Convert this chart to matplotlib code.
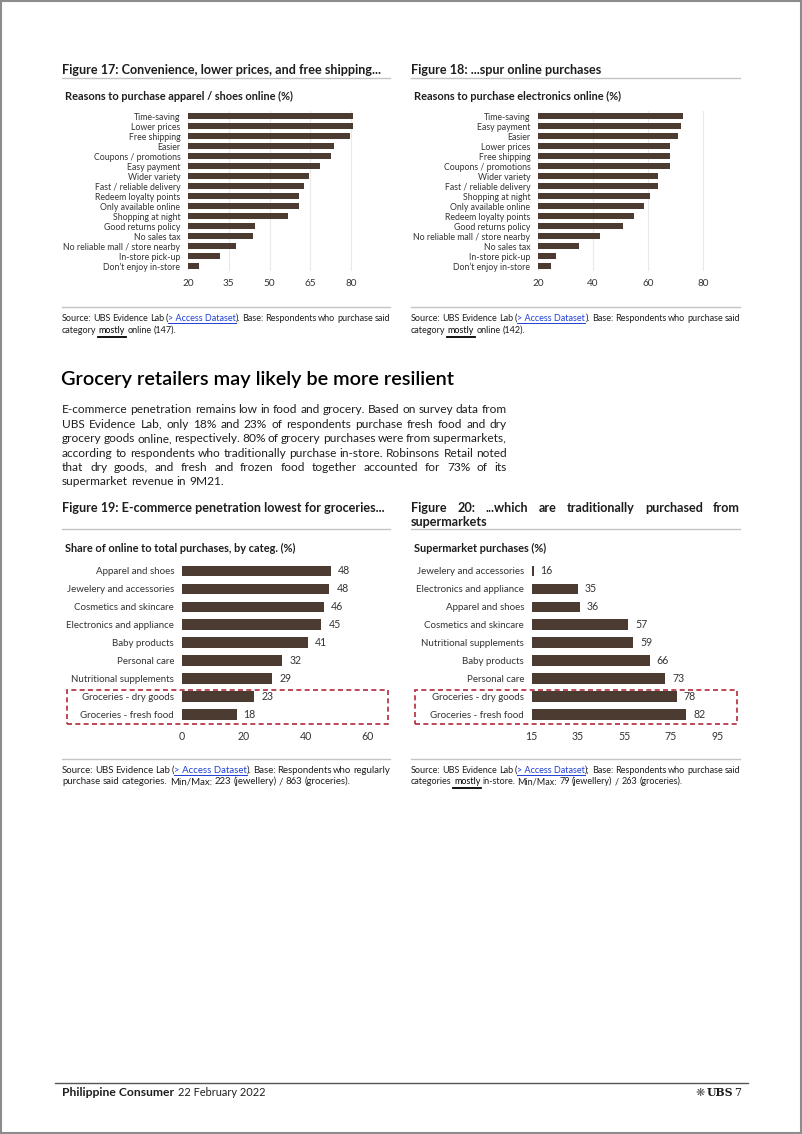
import re
import matplotlib
matplotlib.use('Agg')
import matplotlib.pyplot as plt
from matplotlib.lines import Line2D
from matplotlib.patches import Rectangle

# ---- chart data ----
apparel_reasons = ['Time-saving', 'Lower prices', 'Free shipping', 'Easier', 'Coupons / promotions',
                   'Easy payment', 'Wider variety', 'Fast / reliable delivery', 'Redeem loyalty points',
                   'Only available online', 'Shopping at night', 'Good returns policy', 'No sales tax',
                   'No reliable mall / store nearby', 'In-store pick-up', 'Don\u2019t enjoy in-store']
apparel_pct = [80.7, 80.7, 79.6, 73.6, 72.8, 68.7, 64.7, 62.8, 60.8, 60.8, 56.8, 44.7, 43.9, 37.7, 31.8, 23.9]
apparel_ticks = [20, 35, 50, 65, 80]

electronics_reasons = ['Time-saving', 'Easy payment', 'Easier', 'Lower prices', 'Free shipping',
                       'Coupons / promotions', 'Wider variety', 'Fast / reliable delivery', 'Shopping at night',
                       'Only available online', 'Redeem loyalty points', 'Good returns policy',
                       'No reliable mall / store nearby', 'No sales tax', 'In-store pick-up',
                       'Don\u2019t enjoy in-store']
electronics_pct = [72.7, 71.9, 70.8, 67.9, 67.9, 67.9, 63.8, 63.8, 60.8, 58.7, 54.9, 50.8, 42.7, 34.8, 26.7, 24.7]
electronics_ticks = [20, 40, 60, 80]

online_cats = ['Apparel and shoes', 'Jewelery and accessories', 'Cosmetics and skincare',
               'Electronics and appliance', 'Baby products', 'Personal care', 'Nutritional supplements',
               'Groceries - dry goods', 'Groceries - fresh food']
online_share = [48.1, 47.6, 45.9, 45.0, 40.6, 32.4, 29.2, 23.4, 17.7]
online_ticks = [0, 20, 40, 60]

market_cats = ['Jewelery and accessories', 'Electronics and appliance', 'Apparel and shoes',
               'Cosmetics and skincare', 'Nutritional supplements', 'Baby products', 'Personal care',
               'Groceries - dry goods', 'Groceries - fresh food']
market_share = [15.8, 34.8, 35.8, 56.6, 58.8, 65.8, 72.6, 77.6, 81.6]
market_ticks = [15, 35, 55, 75, 95]

BAR = '#4b3b31'
TEXT = '#1e1e1e'
LABEL = '#333333'
LINK = '#1f3fd6'
RULE = '#c4c4c4'
RED = '#b22a3c'

W, H = 802, 1134
plt.rcParams['font.family'] = ['Lato', 'DejaVu Sans']
fig = plt.figure(figsize=(W / 100, H / 100), dpi=100)
R = fig.canvas.get_renderer()


def fx(x):
    return x / W


def fy(y):
    return 1 - y / H


def hline(x0, x1, y, color=RULE, lw=1.0):
    fig.add_artist(Line2D([fx(x0), fx(x1)], [fy(y), fy(y)], color=color, lw=lw))


def text_w(s, size, weight='normal'):
    t = fig.text(0, 0, s, fontsize=size, weight=weight)
    w = t.get_window_extent(renderer=R).width
    t.remove()
    return w


def parse(line):
    # [[..]] = blue underlined link, __..__ = underlined word
    words = []
    for tok in re.findall(r'(?:\[\[.*?\]\]|\S)+', line):
        runs = []
        for part in re.split(r'(\[\[.*?\]\]|__.+?__)', tok):
            if not part:
                continue
            if part.startswith('[['):
                runs.append((part[2:-2], LINK, 'link'))
            elif part.startswith('__'):
                runs.append((part[2:-2], 'black', 'bar'))
            else:
                runs.append((part, None, None))
        words.append(runs)
    return words


def fit_size(lines, width, size, weight, squeeze=0.6):
    # biggest size where every line fits with spaces squeezed to `squeeze` of normal
    while size > 4:
        sp = text_w('a a', size, weight) - text_w('aa', size, weight)
        worst = 0
        for ln in lines:
            words = parse(ln)
            tot = sum(text_w(r[0], size, weight) for w in words for r in w) + squeeze * sp * (len(words) - 1)
            worst = max(worst, tot)
        if worst <= width:
            return size
        size -= 0.1
    return size


def block(lines, x0, x1, y0, lead, size, weight='normal', color=TEXT):
    # justified block, last line left aligned; y values are baselines in px
    size = fit_size(lines, x1 - x0, size, weight)
    sp = text_w('a a', size, weight) - text_w('aa', size, weight)
    for i, ln in enumerate(lines):
        words = parse(ln)
        widths = [[text_w(r[0], size, weight) for r in w] for w in words]
        total = sum(sum(ws) for ws in widths)
        last = i == len(lines) - 1
        gap = sp if (last or len(words) < 2) else (x1 - x0 - total) / (len(words) - 1)
        y = y0 + i * lead
        x = x0
        for w, ws in zip(words, widths):
            for (s, c, ul), wd in zip(w, ws):
                fig.text(fx(x), fy(y), s, fontsize=size, weight=weight, color=c or color, va='baseline')
                if ul == 'link':
                    hline(x, x + wd, y + 1.8, color=LINK, lw=0.7)
                elif ul == 'bar':
                    hline(x - 1, x + wd + 1, y + 3.5, color='black', lw=1.3)
                x += wd
            x += gap


def bar_panel(rect, cats, vals, xlim, ticks, cat_size, tick_size, grid, labels):
    left, right, top, bottom = rect
    ax = fig.add_axes([fx(left), fy(bottom), (right - left) / W, (bottom - top) / H])
    pos = list(range(len(cats)))
    bars = ax.barh(pos, vals, height=0.6, color=BAR, zorder=2)
    ax.set_xlim(*xlim)
    ax.set_ylim(len(cats) - 0.5, -0.5)
    ax.set_xticks(ticks)
    ax.set_yticks(pos)
    ax.set_yticklabels(cats)
    ax.tick_params(axis='y', length=0, pad=5.5, labelsize=cat_size, labelcolor=LABEL)
    ax.tick_params(axis='x', length=0, pad=5.5, labelsize=tick_size, labelcolor=LABEL)
    for s in ax.spines.values():
        s.set_visible(False)
    ax.patch.set_visible(False)
    if grid:
        ax.xaxis.grid(True, color='#e9e9e9', lw=0.8, zorder=0)
    if labels:
        ax.bar_label(bars, fmt='%.0f', padding=5, fontsize=tick_size, color=LABEL)
    return ax


# page border
fig.add_artist(Rectangle((fx(1), fy(1133)), 800 / W, 1132 / H, fill=False, ec='#8c8c8c', lw=1.5))

# ---- Figures 17 / 18 ----
fig.text(fx(62), fy(70), 'Figure 17: Convenience, lower prices, and free shipping...', fontsize=9.1,
         weight='bold', color=TEXT, va='center')
fig.text(fx(411), fy(70), 'Figure 18: ...spur online purchases', fontsize=9.1,
         weight='bold', color=TEXT, va='center')
hline(62, 390, 77.5)
hline(411, 740, 77.5)
fig.text(fx(65), fy(96), 'Reasons to purchase apparel / shoes online (%)', fontsize=7.9,
         weight='bold', color=TEXT, va='center')
fig.text(fx(414), fy(96), 'Reasons to purchase electronics online (%)', fontsize=7.9,
         weight='bold', color=TEXT, va='center')

bar_panel((188, 367.3, 111, 271.3), apparel_reasons, apparel_pct, (20, 86), apparel_ticks,
          6.3, 7.2, True, False)
bar_panel((538, 719.5, 111, 271.3), electronics_reasons, electronics_pct, (20, 86), electronics_ticks,
          6.3, 7.2, True, False)

hline(62, 390, 307)
hline(411, 740, 307)
block(['Source: UBS Evidence Lab ([[> Access Dataset]]). Base: Respondents who purchase said',
       'category __mostly__ online (147).'], 62, 390, 321, 12, 7.3, color=TEXT)
block(['Source: UBS Evidence Lab ([[> Access Dataset]]). Base: Respondents who purchase said',
       'category __mostly__ online (142).'], 411, 740, 321, 12, 7.3, color=TEXT)

# ---- section header and body ----
fig.text(fx(61), fy(380), 'Grocery retailers may likely be more resilient', fontsize=14.3,
         weight='semibold', color='black', va='center')
block(['E-commerce penetration remains low in food and grocery. Based on survey data from',
       'UBS Evidence Lab, only 18% and 23% of respondents purchase fresh food and dry',
       'grocery goods online, respectively. 80% of grocery purchases were from supermarkets,',
       'according to respondents who traditionally purchase in-store. Robinsons Retail noted',
       'that dry goods, and fresh and frozen food together accounted for 73% of its',
       'supermarket revenue in 9M21.'], 62, 507, 413, 14.5, 8.9, color=TEXT)

# ---- Figures 19 / 20 ----
fig.text(fx(62), fy(508), 'Figure 19: E-commerce penetration lowest for groceries...', fontsize=9.1,
         weight='bold', color=TEXT, va='center')
block(['Figure 20: ...which are traditionally purchased from', 'supermarkets'],
      411, 740, 511.5, 14.8, 9.1, weight='bold', color=TEXT)
hline(62, 390, 529)
hline(411, 740, 529)
fig.text(fx(65), fy(548), 'Share of online to total purchases, by categ. (%)', fontsize=7.9,
         weight='bold', color=TEXT, va='center')
fig.text(fx(414), fy(548), 'Supermarket purchases (%)', fontsize=7.9,
         weight='bold', color=TEXT, va='center')

bar_panel((181.7, 374.2, 562, 723.7), online_cats, online_share, (0, 62), online_ticks,
          7.0, 7.6, False, True)
bar_panel((531.7, 728.9, 562, 723.7), market_cats, market_share, (15, 100), market_ticks,
          7.0, 7.6, False, True)

for x0, x1 in [(67, 388), (415, 736.5)]:
    fig.add_artist(Rectangle((fx(x0), fy(723.5)), (x1 - x0) / W, 33.5 / H, fill=False,
                             ec=RED, lw=1.2, ls=(0, (3, 2))))

hline(62, 390, 759)
hline(411, 740, 759)
block(['Source: UBS Evidence Lab ([[> Access Dataset]]). Base: Respondents who regularly',
       'purchase said categories. Min/Max: 223 (jewellery) / 863 (groceries).'],
      62, 390, 773, 11.5, 7.3, color=TEXT)
block(['Source: UBS Evidence Lab ([[> Access Dataset]]); Base: Respondents who purchase said',
       'categories __mostly__ in-store. Min/Max: 79 (jewellery) / 263 (groceries).'],
      411, 740, 773, 11.5, 7.3, color=TEXT)

# ---- footer ----
hline(55, 748, 1082.5, color='#555555', lw=1.0)
fig.text(fx(62), fy(1093), 'Philippine Consumer', fontsize=8.7, weight='bold', color=TEXT, va='center')
fig.text(fx(178), fy(1093), '22 February 2022', fontsize=7.9, color=TEXT, va='center')
fig.text(fx(741), fy(1093), '7', fontsize=8, color=TEXT, va='center', ha='right', family='DejaVu Serif')
fig.text(fx(707), fy(1093), 'UBS', fontsize=7.8, weight='bold', color=TEXT, va='center', ha='left',
         family='DejaVu Serif')
fig.text(fx(705), fy(1093), '\u274b', fontsize=8, color='#555555', va='center', ha='right',
         family='DejaVu Sans')

fig.savefig('out.png', dpi=100)
